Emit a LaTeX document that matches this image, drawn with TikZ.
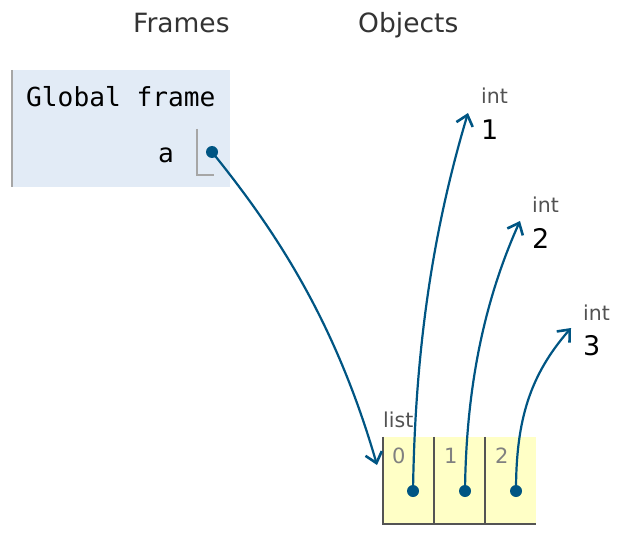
\documentclass[tikz,border=0pt]{standalone}
\usepackage{fontspec}
\setmainfont{DejaVu Sans}
\newfontfamily\framemono{DejaVu Sans Mono}
\usepackage{tikz}
\usetikzlibrary{arrows.meta,positioning}
\definecolor{ptrblue}{HTML}{005583}
\definecolor{framebg}{HTML}{E2EBF6}
\definecolor{listbg}{HTML}{FFFFC6}
\definecolor{headgray}{HTML}{333333}

\begin{document}
\begin{tikzpicture}[x=1pt, y=-1pt,
  header/.style={font=\fontsize{26.5}{30}\selectfont, text=headgray, anchor=base west, inner sep=0pt},
  monotext/.style={font=\framemono\fontsize{26.2}{30}\selectfont, inner sep=0pt},
  typelabel/.style={font=\fontsize{20.5}{24}\selectfont, text=black!68, anchor=base west, inner sep=0pt},
  value/.style={font=\fontsize{27}{30}\selectfont, anchor=base west, inner sep=0pt},
  idx/.style={font=\fontsize{21}{24}\selectfont, text=black!50, anchor=base west, inner sep=0pt},
  dot/.style={circle, fill=ptrblue, inner sep=0pt, minimum size=12pt},
  listcell/.style={fill=listbg, minimum width=51pt, minimum height=87pt, inner sep=0pt},
  border/.style={draw=black!67, line width=2.4pt},
  ptr/.style={-{Straight Barb[length=10pt,width=17pt,line width=2.6pt]}, ptrblue, line width=2.2pt}
]
\useasboundingbox (0,0) rectangle (620,540);

\node[header] (frames) at (133,33) {Frames};
\node[header] (objects) at (358,33) {Objects};

% global frame
\node[fill=framebg, minimum width=218pt, minimum height=117pt, inner sep=0pt] (gframe) at (121,128.5) {};
\draw[black!35, line width=2.4pt] (gframe.north west) -- (gframe.south west);
\node[monotext, anchor=base west] (gtitle) at (26,107) {Global frame};
\node[monotext, anchor=base east] (vara) at (174,162) {a};
\draw[black!35, line width=2.4pt] (197,129) -- (197,175) -- (214,175);
\node[dot] (adot) at (212,152) {};

% list object
\node[typelabel] (listlbl) at (383,427) {list};
\node[listcell] (c0) at (408.5,480.5) {};
\node[listcell] (c1) at (459.5,480.5) {};
\node[listcell] (c2) at (510.5,480.5) {};
\draw[border] (c0.north west) -- (c0.south west) -- (c2.south east);
\draw[border] (c0.north east) -- (c0.south east);
\draw[border] (c1.north east) -- (c1.south east);
\node[idx] (i0) at (392,463) {0};
\node[idx] (i1) at (444,463) {1};
\node[idx] (i2) at (495,463) {2};
\node[dot] (d0) at (413,491) {};
\node[dot] (d1) at (465,491) {};
\node[dot] (d2) at (516,491) {};

% int objects
\node[typelabel] (int1) at (481,104) {int};
\node[value] (v1) at (481,140) {1};
\node[typelabel] (int2) at (532,212) {int};
\node[value] (v2) at (532,248) {2};
\node[typelabel] (int3) at (583,320) {int};
\node[value] (v3) at (583,355) {3};

\coordinate (listin) at (377,465);
\coordinate (tip1) at (468,113);
\coordinate (tip2) at (520,221);
\coordinate (tip3) at (571,328);

\draw[ptr] (adot.center) .. controls (275,230) and (335,320) .. (listin);
\draw[ptr] (d0.center) .. controls (415,360) and (430,240) .. (tip1);
\draw[ptr] (d1.center) .. controls (466,400) and (480,310) .. (tip2);
\draw[ptr] (d2.center) .. controls (516,420) and (530,375) .. (tip3);

\end{tikzpicture}
\end{document}
